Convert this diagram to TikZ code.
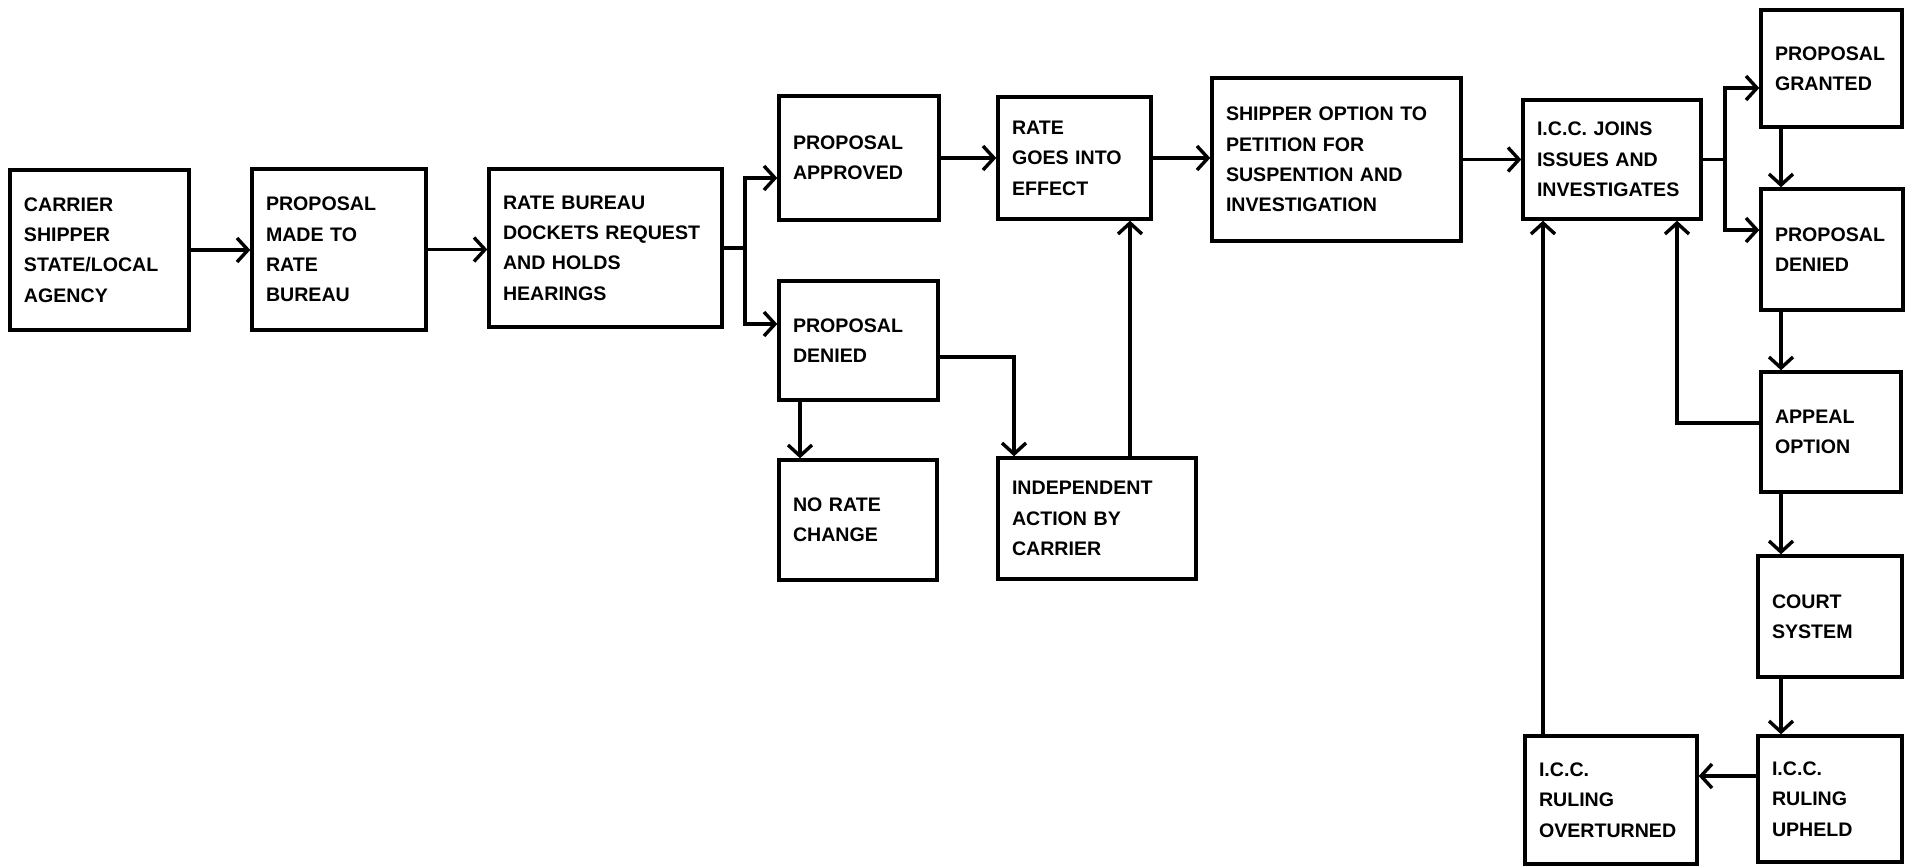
\documentclass[tikz,border=0pt]{standalone}
\usepackage{fontspec}
\setmainfont{Liberation Sans}
\usetikzlibrary{arrows.meta}
\tikzset{
  boxnode/.style={draw, line width=1.7pt, inner xsep=7pt, inner ysep=4pt, align=left,
    font=\fontsize{9.8}{15.2}\selectfont\bfseries},
  arr/.style={line width=1.7pt, -{Straight Barb[length=5.5pt,width=12pt]}}
}
\newcommand\bx[6]{%
  \pgfmathsetmacro\bw{(#4-#2)/2}%
  \pgfmathsetmacro\bh{(#5-#3)/2}%
  \pgfmathsetmacro\tw{(#4-#2)/2-14}%
  \node[boxnode, minimum width=\bw pt, minimum height=\bh pt, text width=\tw pt] (#1) at ({(#2+#4)/2},{(#3+#5)/2}) {#6};}
\begin{document}
\begin{tikzpicture}[x=0.5pt,y=-0.5pt]
\useasboundingbox (0,0) rectangle (1908,868);
\bx{b1}{10}{170}{189}{330}{CARRIER\\SHIPPER\\STATE/LOCAL\\AGENCY}
\bx{b2}{252}{169}{426}{330}{PROPOSAL\\MADE TO\\RATE\\BUREAU}
\bx{b3}{489}{169}{722}{327}{RATE BUREAU\\DOCKETS REQUEST\\AND HOLDS\\HEARINGS}
\bx{b4}{779}{96}{939}{220}{PROPOSAL\\APPROVED}
\bx{b5}{779}{281}{938}{400}{PROPOSAL\\DENIED}
\bx{b6}{779}{460}{937}{580}{NO RATE\\CHANGE}
\bx{b7}{998}{97}{1151}{219}{RATE\\GOES INTO\\EFFECT}
\bx{b8}{998}{458}{1196}{579}{INDEPENDENT\\ACTION BY\\CARRIER}
\bx{b9}{1212}{78}{1461}{241}{SHIPPER OPTION TO\\PETITION FOR\\SUSPENTION AND\\INVESTIGATION}
\bx{b10}{1523}{100}{1701}{219}{I.C.C. JOINS\\ISSUES AND\\INVESTIGATES}
\bx{b11}{1761}{10}{1902}{127}{PROPOSAL\\GRANTED}
\bx{b12}{1761}{189}{1903}{310}{PROPOSAL\\DENIED}
\bx{b13}{1761}{372}{1901}{492}{APPEAL\\OPTION}
\bx{b14}{1758}{556}{1902}{677}{COURT\\SYSTEM}
\bx{b15}{1758}{736}{1902}{862}{I.C.C.\\RULING\\UPHELD}
\bx{b16}{1525}{736}{1697}{864}{I.C.C.\\RULING\\OVERTURNED}
% helper coordinates
\coordinate (j1a) at (745,178);
\coordinate (j1b) at (745,324);
\coordinate (k1) at (1014,357);
\coordinate (k2) at (1130,0);
\coordinate (k0) at (800,0);
\coordinate (j2a) at (1725,88);
\coordinate (j2b) at (1725,230);
\coordinate (cx) at (1781,0);
\coordinate (k3) at (1677,423);
\coordinate (k4) at (0,776);
\coordinate (k5) at (1543,0);
% connectors
\draw[arr] (b1.east) -- (b1.east -| b2.west);
\draw[arr] (b2.east) -- (b2.east -| b3.west);
\draw[arr] (b3.east) -- (b3.east -| j1a) |- (j1a -| b4.west);
\draw[arr] (b3.east -| j1a) |- (j1b -| b5.west);
\draw[arr] (b4.east) -- (b4.east -| b7.west);
\draw[arr] (b5.south -| k0) -- (b6.north -| k0);
\draw[arr] (b5.east |- k1) -| (b8.north -| k1);
\draw[arr] (b8.north -| k2) -- (b7.south -| k2);
\draw[arr] (b7.east) -- (b7.east -| b9.west);
\draw[arr] (b9.east) -- (b9.east -| b10.west);
\draw[arr] (b10.east) -- (b10.east -| j2a) |- (j2a -| b11.west);
\draw[arr] (b10.east -| j2a) |- (j2b -| b12.west);
\draw[arr] (b11.south -| cx) -- (b12.north -| cx);
\draw[arr] (b12.south -| cx) -- (b13.north -| cx);
\draw[arr] (b13.west |- k3) -| (b10.south -| k3);
\draw[arr] (b13.south -| cx) -- (b14.north -| cx);
\draw[arr] (b14.south -| cx) -- (b15.north -| cx);
\draw[arr] (b15.west |- k4) -- (b16.east |- k4);
\draw[arr] (b16.north -| k5) -- (b10.south -| k5);
\end{tikzpicture}
\end{document}
